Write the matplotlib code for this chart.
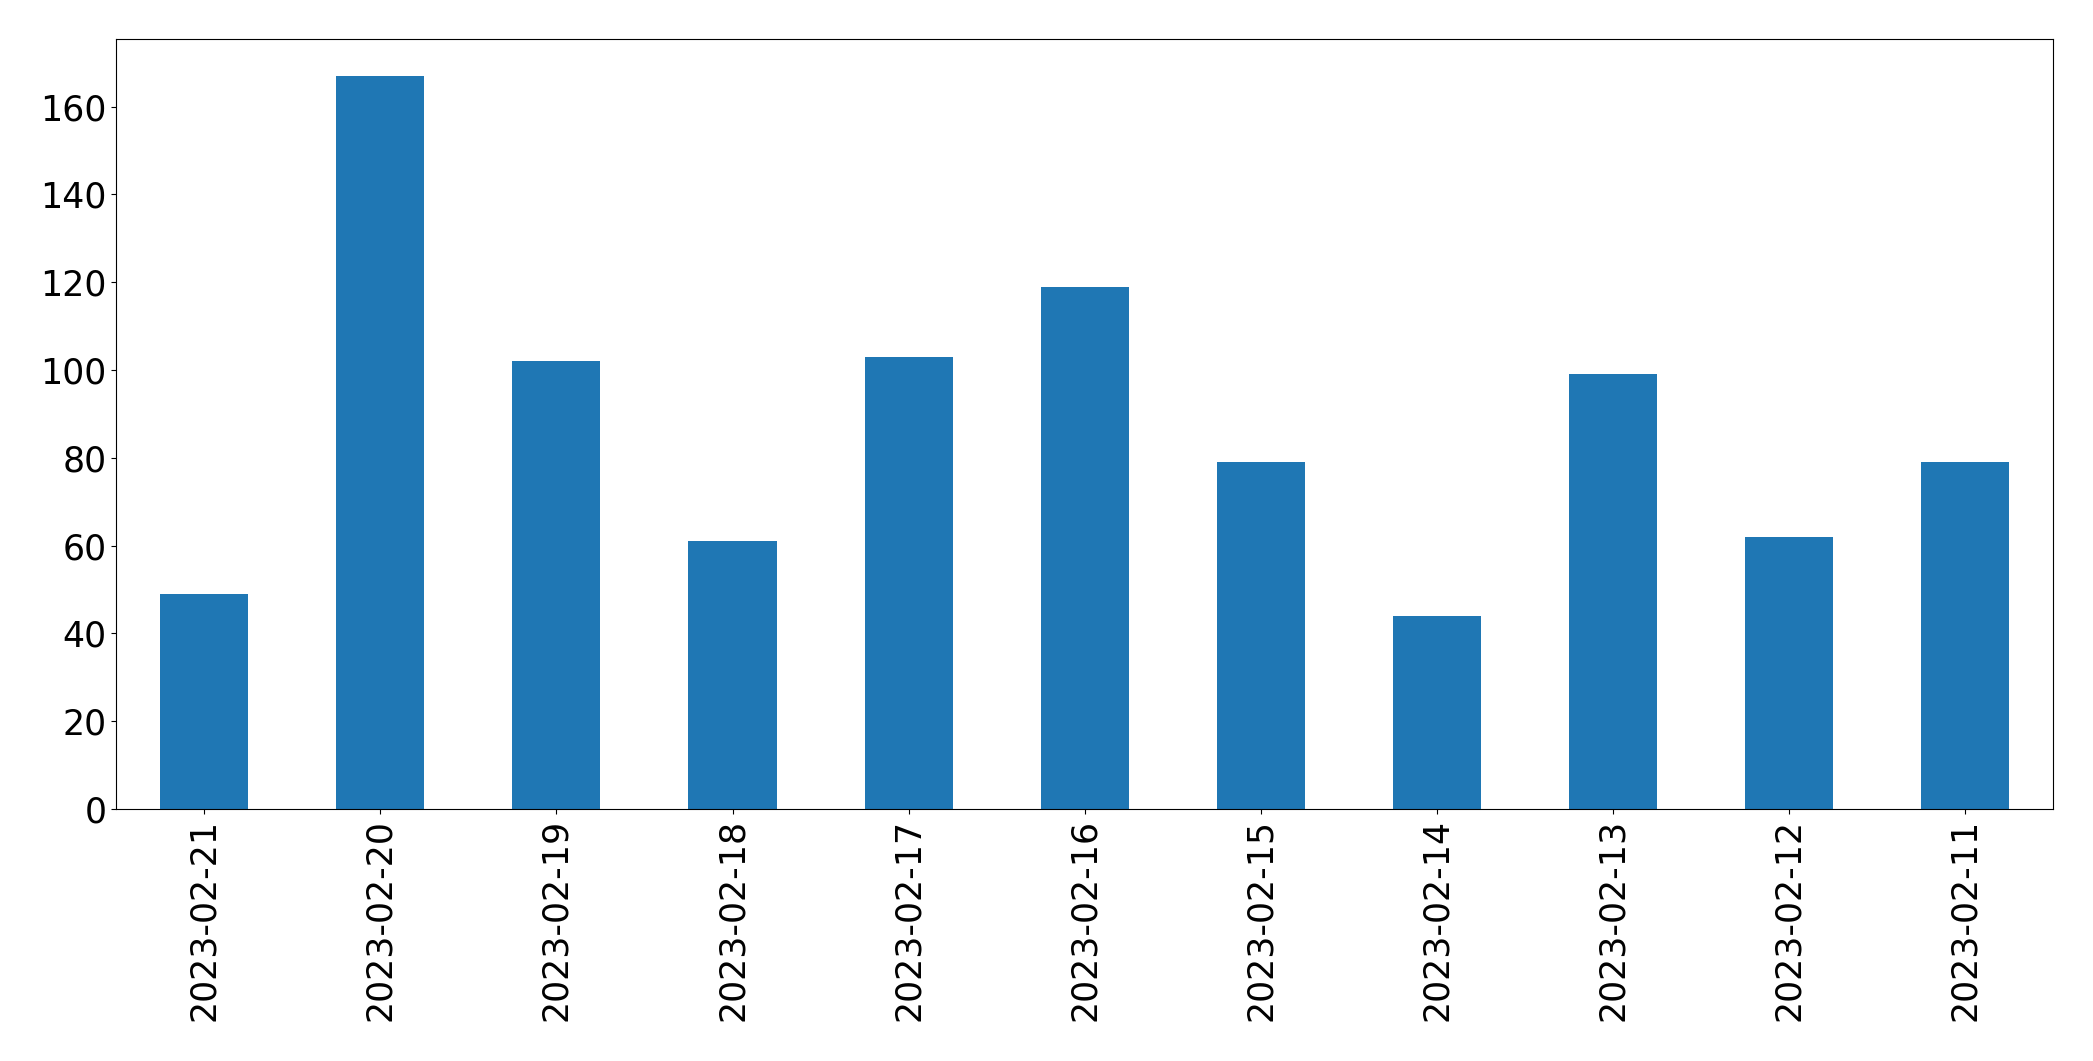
import matplotlib
matplotlib.use("Agg")
import matplotlib.pyplot as plt
import numpy as np

dates = ["2023-02-21", "2023-02-20", "2023-02-19", "2023-02-18", "2023-02-17",
         "2023-02-16", "2023-02-15", "2023-02-14", "2023-02-13", "2023-02-12",
         "2023-02-11"]
counts = [49, 167, 102, 61, 103, 119, 79, 44, 99, 62, 79]

fig, ax = plt.subplots(figsize=(20.93, 10.61), dpi=100)
x = np.arange(len(dates))
ax.bar(x, counts, width=0.5, color="#1f77b4")
ax.set_xlim(-0.5, len(dates) - 0.5)
ax.set_xticks(x)
ax.set_xticklabels(dates, rotation=90)
ax.tick_params(axis="both", labelsize=25)

plt.subplots_adjust(left=0.0555, right=0.981, bottom=0.2375, top=0.963)
plt.savefig("out.png", dpi=100)
